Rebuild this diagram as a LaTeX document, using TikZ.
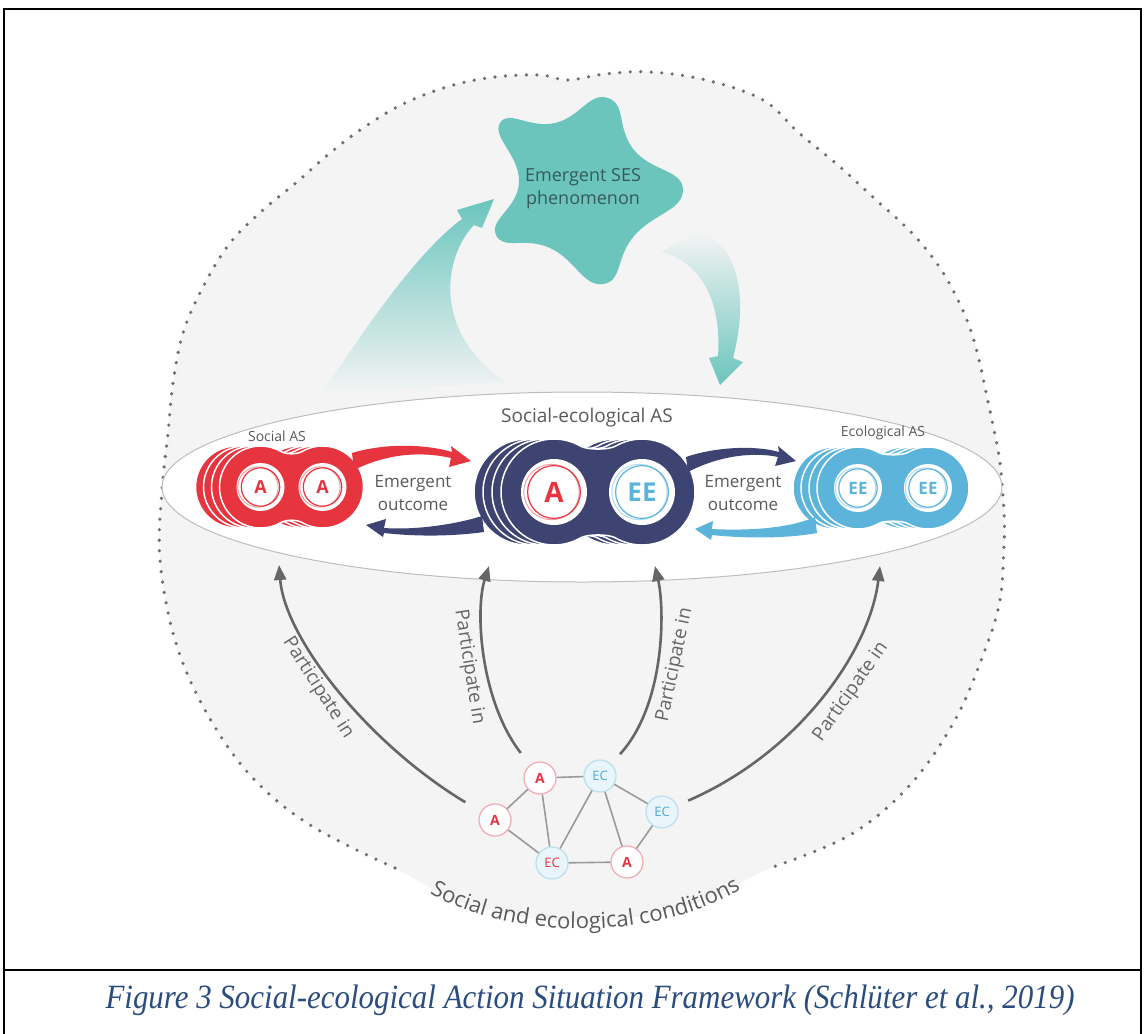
\documentclass[tikz,border=0pt]{standalone}
\usepackage{fontspec}
\setmainfont{Liberation Serif}
\setsansfont{Open Sans}
\usetikzlibrary{arrows.meta,calc,decorations.text}
\definecolor{bggray}{HTML}{F4F4F4}
\definecolor{dotgray}{HTML}{6E6E6E}
\definecolor{ellgray}{HTML}{BDBDBD}
\definecolor{sred}{HTML}{E6353F}
\definecolor{navy}{HTML}{3E4471}
\definecolor{eblue}{HTML}{5CB4DB}
\definecolor{tealc}{HTML}{6BC5BD}
\definecolor{startext}{HTML}{355A58}
\definecolor{txtgray}{HTML}{5A5A5A}
\definecolor{capblue}{HTML}{2B4C7E}
\definecolor{arrgray}{HTML}{666666}
\definecolor{pinkring}{HTML}{F2A9B0}
\definecolor{palblue}{HTML}{E9F5FA}
\definecolor{blueline}{HTML}{B9DFEE}
\definecolor{ectext}{HTML}{4FA9D3}
\definecolor{edgegray}{HTML}{9A9A9A}

\newcommand\peanut[5]{%
  \pgfmathsetmacro\pjx{-(#3)+0.5*(#4)}%
  \pgfmathsetmacro\pjy{0.866*(#4)}%
  \pgfmathsetmacro\pcx{\pjx+0.13*(#4)}%
  \pgfmathsetmacro\pcy{\pjy-0.075*(#4)}%
  \pgfmathsetmacro\qjx{-1*(\pjx)}%
  \pgfmathsetmacro\qjy{-1*(\pjy)}%
  \pgfmathsetmacro\qcx{-1*(\pcx)}%
  \pgfmathsetmacro\qcy{-1*(\pcy)}%
  \filldraw[fill=#5, draw=white, line width=1.5pt, shift={(#1,#2)}]
    (\pjx pt,\pjy pt) .. controls (\pcx pt,\pcy pt) and (\qcx pt,\pcy pt) .. (\qjx pt,\pjy pt)
    arc[start angle=120,end angle=-120,radius=#4pt]
    .. controls (\qcx pt,\qcy pt) and (\pcx pt,\qcy pt) .. (\pjx pt,\qjy pt)
    arc[start angle=-60,end angle=-300,radius=#4pt] -- cycle;}

\newcommand\ringdisc[7]{%
  \node[circle, fill=white, minimum size={2*#4}, inner sep=0] (#1) at (#2,#3) {};
  \draw[#5!50, line width=0.9pt] ([xshift=-2.5pt]#1.center) circle[radius={0.84*#4}];
  \draw[#5, line width=1.2pt] (#1.center) circle[radius={0.8*#4}];
  \node[text=#5, font=\sffamily\bfseries\fontsize{#6}{#6}\selectfont, inner sep=0] at (#1.center) {#7};}

\begin{document}
\begin{tikzpicture}[x=1pt,y=-1pt,
  lbl/.style={font=\sffamily\fontsize{#1}{#1}\selectfont, text=txtgray, inner sep=0},
  twolbl/.style={font=\sffamily\fontsize{17}{23}\selectfont, text=txtgray, inner sep=0, align=center},
  partarr/.style={draw=arrgray, line width=2.6pt, -{Triangle[length=15pt,width=12pt]}},
  netA/.style={circle, draw=pinkring, fill=white, line width=1.2pt, minimum size=32pt, inner sep=0, text=sred, font=\sffamily\bfseries\fontsize{14}{14}\selectfont},
  netE/.style={circle, draw=blueline, fill=palblue, line width=1.2pt, minimum size=32pt, inner sep=0, text=ectext, font=\sffamily\fontsize{13}{13}\selectfont},
  netedge/.style={draw=edgegray, line width=1.6pt},
  dotline/.style={draw=dotgray, line width=3.6pt, dash pattern=on 0pt off 10.5pt, line cap=round}]

\path[use as bounding box, fill=white] (0,0) rectangle (1144,1034);

% outer blob
\fill[bggray] plot[smooth cycle, tension=0.6] coordinates {(395,868) (310,825) (250,775) (205,710) (175,640) (160,560) (162,490) (168,433) (173,383) (183,333) (203,287) (230,243) (263,210) (297,182) (330,153) (363,128) (403,104) (450,86) (495,77) (540,75) (568,80) (605,74) (650,72) (706,80) (763,100) (799,133) (839,166) (875,199) (911,232) (938,265) (957,298) (971,331) (980,364) (987,397) (994,430) (1000,463) (1004,512) (1004,545) (1000,600) (985,650) (955,720) (910,785) (850,835) (770,868) (690,905) (580,922) (470,905)};
\draw[dotline] plot[smooth, tension=0.6] coordinates {(395,868) (310,825) (250,775) (205,710) (175,640) (160,560) (162,490) (168,433) (173,383) (183,333) (203,287) (230,243) (263,210) (297,182) (330,153) (363,128) (403,104) (450,86) (495,77) (540,75) (568,80) (605,74) (650,72) (706,80) (763,100) (799,133) (839,166) (875,199) (911,232) (938,265) (957,298) (971,331) (980,364) (987,397) (994,430) (1000,463) (1004,512) (1004,545) (1000,600) (985,650) (955,720) (910,785) (850,835) (770,868)};

% teal fans
\shade[top color=tealc, middle color=tealc!55!bggray, bottom color=bggray]
  (322,394) .. controls (370,320) and (420,250) .. (462,219) -- (457,210) -- (494,199) -- (482,228) -- (474,225) .. controls (445,255) and (430,330) .. (505,382) -- cycle;
\shade[top color=bggray, middle color=tealc!60!bggray, bottom color=tealc]
  (662,252) .. controls (700,262) and (722,300) .. (718,356) -- (709,358) -- (720,385) -- (743,362) -- (733,358) .. controls (748,300) and (740,250) .. (703,232) .. controls (690,236) and (670,245) .. (662,252) -- cycle;

% star
\fill[tealc] plot[smooth cycle, tension=0.85] coordinates {(608,98) (634,150) (683,190) (634,236) (603,284) (550,248) (496,235) (519,182) (500,123) (555,123)};
\node[font=\sffamily\fontsize{18}{23}\selectfont, text=startext, align=center, inner sep=0] (ses) at (583,189) {Emergent SES\\phenomenon};

% ellipse
\draw[ellgray, fill=white, line width=1pt] (582,487) ellipse [x radius=420, y radius=95];

% action situations
\foreach \s in {24,16,8} {\peanut{291.5-\s}{487}{31}{41}{sred}}
\peanut{291.5}{487}{31}{41}{sred}
\foreach \s in {27,18,9} {\peanut{598-\s}{492}{44}{53}{navy}}
\peanut{598}{492}{44}{53}{navy}
\foreach \s in {24,16,8} {\peanut{893-\s}{488}{35}{41}{eblue}}
\peanut{893}{488}{35}{41}{eblue}

\ringdisc{sa1}{260.5}{487}{24}{sred}{18}{A}
\ringdisc{sa2}{322.5}{487}{24}{sred}{18}{A}
\ringdisc{sea}{554}{492}{33}{sred}{28}{A}
\ringdisc{see}{642}{492}{33}{eblue}{26}{EE}
\ringdisc{ee1}{858}{488}{24}{eblue}{17}{EE}
\ringdisc{ee2}{928}{488}{24}{eblue}{17}{EE}

\node[lbl=14] (socl) at (277,436) {Social AS};
\node[lbl=19] (sel) at (587,418) {Social-ecological AS};
\node[lbl=14] (ecol) at (883,433) {Ecological AS};

% emergent outcome arrows
\fill[sred] (352,453) .. controls (385,443) and (425,444) .. (452,452) -- (451,446) -- (471,461) -- (449,467) -- (451,458) .. controls (425,452) and (390,452) .. (354,470) -- cycle;
\fill[navy] (482,516) .. controls (450,526) and (410,530) .. (384,528) -- (386,519) -- (366,525) -- (383,537) -- (384,533) .. controls (420,537) and (455,536) .. (484,532) -- cycle;
\fill[navy] (686,457) .. controls (715,447) and (755,445) .. (779,452) -- (778,446) -- (796,461) -- (775,466) -- (778,457) .. controls (755,452) and (720,455) .. (688,472) -- cycle;
\fill[eblue] (815,517) .. controls (790,528) and (750,531) .. (712,529) -- (713,521) -- (695,529) -- (711,540) -- (712,535) .. controls (750,539) and (790,538) .. (817,533) -- cycle;
\node[twolbl] (eo1) at (413,493) {Emergent\\outcome};
\node[twolbl] (eo2) at (743,493) {Emergent\\outcome};

% network
\node[netA] (A1) at (540,778) {A};
\node[netE] (E1) at (600,776) {EC};
\node[netA] (A2) at (495,820) {A};
\node[netE] (E2) at (662,812) {EC};
\node[netE, text=sred] (E3) at (552,863) {EC};
\node[netA] (A3) at (627,862) {A};
\draw[netedge] (A1) -- (E1);
\draw[netedge] (A2) -- (A1);
\draw[netedge] (A1) -- (E3);
\draw[netedge] (A2) -- (E3);
\draw[netedge] (E1) -- (E3);
\draw[netedge] (E1) -- (A3);
\draw[netedge] (E1) -- (E2);
\draw[netedge] (E2) -- (A3);
\draw[netedge] (E3) -- (A3);

% participate arrows
\coordinate (t1) at (279,565);
\coordinate (t2) at (489,566);
\coordinate (t3) at (655,566);
\coordinate (t4) at (880,566);
\draw[partarr, shorten <=18pt] (A2) .. controls (370,745) and (285,640) .. (t1);
\draw[partarr, shorten <=15pt] (A1) .. controls (480,700) and (475,610) .. (t2);
\draw[partarr, shorten <=13pt] (E1) .. controls (665,705) and (665,610) .. (t3);
\draw[partarr, shorten <=12pt] (E2) .. controls (800,752) and (870,650) .. (t4);
\node[lbl=19, text=arrgray, rotate=-57.5] (p1) at (318,688) {Participate in};
\node[lbl=19, text=arrgray, rotate=-81] (p2) at (469,667) {Participate in};
\node[lbl=19, text=arrgray, rotate=78] (p3) at (675,665) {Participate in};
\node[lbl=19, text=arrgray, rotate=55] (p4) at (851,692) {Participate in};

% bottom arc text
\path[decorate, decoration={text along path, text align=center,
  text={|\sffamily\fontsize{22}{22}\selectfont\color{txtgray}|Social and ecological conditions}}]
  (385,860) .. controls (470,950) and (690,955) .. (785,855);

% frame and caption
\draw[line width=2.5pt] (4,1034) -- (4,9) -- (1141,9) -- (1141,1034);
\draw[line width=2.5pt] (4,970) -- (1141,970);
\node[font=\itshape\fontsize{34}{34}\selectfont, text=capblue, xscale=0.91, inner sep=0] (cap) at (590,1000) {Figure 3 Social-ecological Action Situation Framework (Schlüter et al., 2019)};
\end{tikzpicture}
\end{document}
